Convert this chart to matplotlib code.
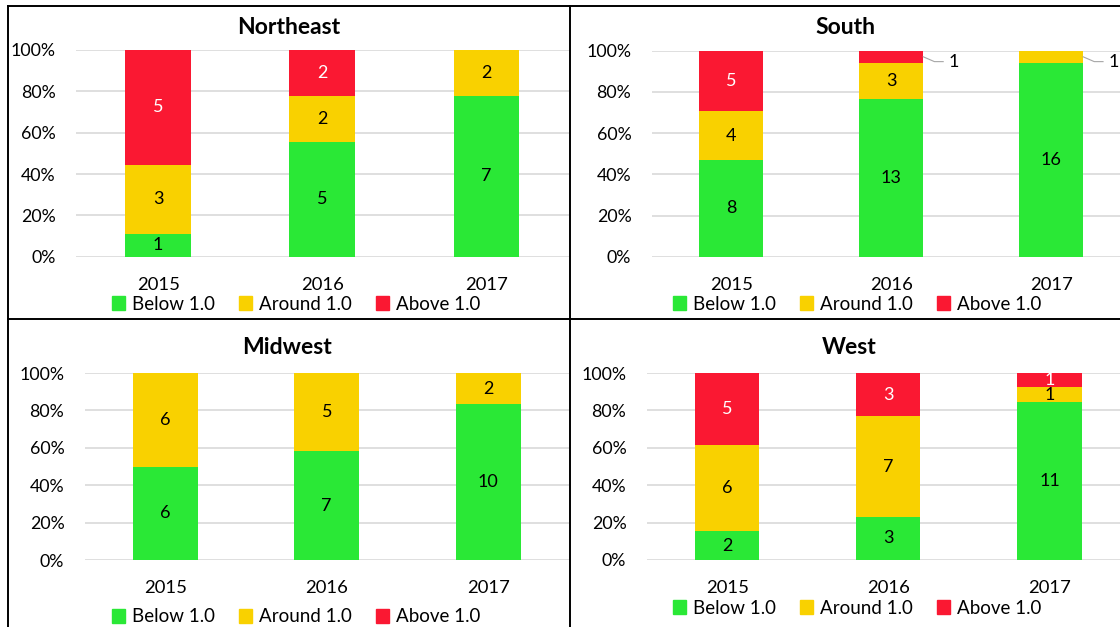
import numpy as np
import matplotlib
matplotlib.use("Agg")
import matplotlib.pyplot as plt
from matplotlib.patches import Patch
from matplotlib.lines import Line2D

plt.rcParams["font.family"] = ["Lato", "DejaVu Sans"]

years = ["2015", "2016", "2017"]
series = ["Below 1.0", "Around 1.0", "Above 1.0"]
colors = ["#2AE836", "#F9D100", "#FA1832"]
text_colors = ["black", "black", "white"]

# counts per region: below, around, above
northeast_below = [1, 5, 7]
northeast_around = [3, 2, 2]
northeast_above = [5, 2, 0]

south_below = [8, 13, 16]
south_around = [4, 3, 1]
south_above = [5, 1, 0]

midwest_below = [6, 7, 10]
midwest_around = [6, 5, 2]
midwest_above = [0, 0, 0]

west_below = [2, 3, 11]
west_around = [6, 7, 1]
west_above = [5, 3, 1]

W, H = 1120, 627


def rect(x0, y0, x1, y1):
    return [x0 / W, 1 - y1 / H, (x1 - x0) / W, (y1 - y0) / H]


# name, counts, axes box (px), title pos (px), legend pos (px), outside labels (year, series)
panels = [
    ("Northeast", [northeast_below, northeast_around, northeast_above],
     (76, 50, 568.5, 256.7), (289, 28), (296, 304), []),
    ("South", [south_below, south_around, south_above],
     (651.5, 50.7, 1131, 256.7), (845, 27), (857, 304), [(1, 2), (2, 1)]),
    ("Midwest", [midwest_below, midwest_around, midwest_above],
     (84.5, 373, 569, 560.3), (287, 348), (296, 617), []),
    ("West", [west_below, west_around, west_above],
     (646.5, 373, 1130, 560), (849.5, 348), (857, 608), []),
]

fig = plt.figure(figsize=(11.2, 6.27), dpi=100)

for name, counts, box, tpos, lpos, outside in panels:
    ax = fig.add_axes(rect(*box))
    data = np.array(counts, dtype=float)
    pct = data / data.sum(axis=0) * 100
    x = np.arange(len(years))
    bottom = np.zeros(len(years))
    for s in range(3):
        ax.bar(x, pct[s], 0.4, bottom=bottom, color=colors[s], zorder=2)
        for i in range(len(years)):
            if data[s, i] == 0:
                continue
            yc = bottom[i] + pct[s, i] / 2
            if (i, s) in outside:
                top = bottom[i] + pct[s, i]
                ax.plot([i + 0.2, i + 0.27, i + 0.325], [yc, top - 5.3, top - 5.3],
                        color="#a6a6a6", lw=0.8, zorder=3, clip_on=False)
                ax.text(i + 0.36, top - 5.3, f"{int(data[s, i])}", ha="left",
                        va="center", fontsize=13, color="black", clip_on=False)
            else:
                ax.text(i, yc, f"{int(data[s, i])}", ha="center", va="center",
                        fontsize=13, color=text_colors[s], zorder=4)
        bottom += pct[s]

    ax.set_xlim(-0.5, 2.5)
    ax.set_ylim(0, 100)
    ax.set_yticks(np.arange(0, 101, 20))
    ax.set_yticklabels([f"{v}%" for v in range(0, 101, 20)])
    ax.set_xticks(x)
    ax.set_xticklabels(years)
    ax.tick_params(axis="y", length=0, pad=14.5, labelsize=12.8)
    ax.tick_params(axis="x", length=0, pad=14.5, labelsize=13.3)
    ax.yaxis.grid(True, color="#d9d9d9", lw=1.2)
    ax.set_axisbelow(True)
    for sp in ax.spines.values():
        sp.set_visible(False)

    fig.text(tpos[0] / W, 1 - tpos[1] / H, name, ha="center", va="center",
             fontsize=16.5, fontweight="bold")

    handles = [Patch(color=c, label=l) for c, l in zip(colors, series)]
    ax.legend(handles=handles, loc="center", ncol=3, frameon=False,
              bbox_to_anchor=(lpos[0] / W, 1 - lpos[1] / H),
              bbox_transform=fig.transFigure, fontsize=13.5,
              handlelength=0.7, handleheight=0.7, handletextpad=0.35,
              columnspacing=1.3, borderpad=0, borderaxespad=0)

# panel borders
bx, by, mx, my = 7.6, 5.7, 569.5, 318.5
for (x0, y0, x1, y1) in [(bx, by, W, by), (bx, by, bx, H), (mx, by, mx, H), (bx, my, W, my)]:
    fig.add_artist(Line2D([x0 / W, x1 / W], [1 - y0 / H, 1 - y1 / H],
                          transform=fig.transFigure, color="black", lw=1.4))

fig.savefig("out.png", dpi=100)
